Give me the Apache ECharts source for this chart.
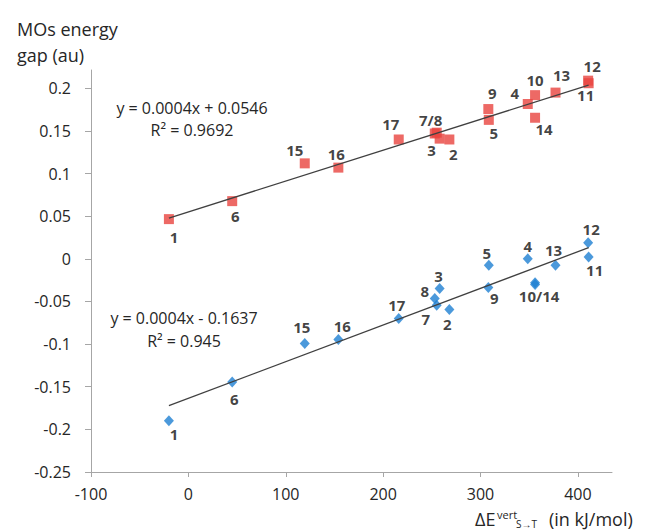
<!DOCTYPE html>
<html><head><meta charset="utf-8">
<script src="https://cdn.jsdelivr.net/npm/echarts@6/dist/echarts.min.js"></script>
<style>html,body{margin:0;padding:0;background:#fff}#c{width:654px;height:532px}</style>
</head><body><div id="c"></div>
<script>
// ---------- data ----------
const compounds   = ['1','2','3','4','5','6','7','8','9','10','11','12','13','14','15','16','17'];
const deltaE      = [-20, 268, 258, 348.5, 308.5, 45, 255, 253, 308, 356, 411, 410.5, 377, 356, 119.5, 154, 216];
const gapRed      = [0.0466, 0.140, 0.141, 0.1816, 0.163, 0.0677, 0.148, 0.147, 0.1757, 0.192, 0.206, 0.209, 0.195, 0.1655, 0.112, 0.107, 0.140];
const gapBlue     = [-0.190, -0.0594, -0.0347, 0.0, -0.0074, -0.1444, -0.0543, -0.0465, -0.0336, -0.028, 0.0023, 0.019, -0.0074, -0.030, -0.0993, -0.0946, -0.070];
const labelsRed   = ['1','2','3','4','5','6','7/8','','9','10','11','12','13','14','15','16','17'];
const labelsBlue  = ['1','2','3','4','5','6','7','8','9','10/14','11','12','13','','15','16','17'];
const xTicks      = [-100, 0, 100, 200, 300, 400];
const yTicks      = [-0.25, -0.2, -0.15, -0.1, -0.05, 0, 0.05, 0.1, 0.15, 0.2];
const eqRed       = ['y = 0.0004x + 0.0546', 'R\u00B2 = 0.9692'];
const eqBlue      = ['y = 0.0004x - 0.1637', 'R\u00B2 = 0.945'];
const yTitle      = 'MOs energy\ngap (au)';

// ---------- layout (label offsets in px, not data) ----------
const offRed  = [[5,18],[4,15],[-8,11],[-13,-11],[5,13],[3,15],[-6,-13],[0,0],[4,-16],[0,-15],[-3,12],[4,-15],[6,-18],[9,11],[-10,-13],[-2,-14],[-8,-15]];
const offBlue = [[5,13],[-2,15],[-1,-12],[0,-13],[-2,-12],[2,17],[-11,14],[-10,-7],[6,11],[4,13],[6,13],[3,-14],[-2,-15],[0,0],[-3,-17],[4,-14],[-2,-14]];

function fit(xs, ys) {
  const n = xs.length;
  let sx=0, sy=0, sxx=0, sxy=0;
  for (let i=0;i<n;i++){ sx+=xs[i]; sy+=ys[i]; sxx+=xs[i]*xs[i]; sxy+=xs[i]*ys[i]; }
  const b = (n*sxy - sx*sy)/(n*sxx - sx*sx);
  const a = (sy - b*sx)/n;
  const x0 = Math.min(...xs), x1 = Math.max(...xs);
  return [[x0, a+b*x0],[x1, a+b*x1]];
}

const FONT = 'Open Sans';
const labelStyle = {show:true, position:'inside', fontFamily:FONT, fontSize:15, fontWeight:'bold', color:'#111'};

function pts(vals, labels, offs) {
  return deltaE.map((x,i)=>({value:[x, vals[i]], label:Object.assign({}, labelStyle, {formatter:labels[i], offset:offs[i]})}));
}

const chart = echarts.init(document.getElementById('c'), null, {renderer:'svg'});
chart.setOption({
  animation:false,
  title:{text:yTitle, left:12, top:11, textStyle:{fontFamily:FONT, fontSize:18, fontWeight:'normal', lineHeight:26, color:'#262626'}},
  grid:{left:91, right:42, top:70, bottom:60},
  xAxis:{type:'value', min:-100, max:435, interval:100,
    splitLine:{show:false},
    axisLine:{onZero:false, lineStyle:{color:'#a6a6a6', width:1}},
    axisTick:{show:true, length:5, lineStyle:{color:'#a6a6a6'}, customValues:xTicks},
    axisLabel:{customValues:xTicks, margin:14, fontFamily:FONT, fontSize:16, color:'#262626'}},
  yAxis:{type:'value', min:-0.25, max:0.2215, interval:0.05,
    splitLine:{show:false},
    axisLine:{show:true, onZero:false, lineStyle:{color:'#a6a6a6', width:1}},
    axisTick:{show:true, length:6, lineStyle:{color:'#a6a6a6'}, customValues:yTicks},
    axisLabel:{customValues:yTicks, margin:20, fontFamily:FONT, fontSize:16, color:'#262626',
      formatter:v=>String(+(+v).toFixed(2))}},
  series:[
    {type:'scatter', symbol:'rect', symbolSize:10, itemStyle:{color:'#e8433f'}, data:pts(gapRed, labelsRed, offRed), z:2},
    {type:'scatter', symbol:'diamond', symbolSize:[10,11], itemStyle:{color:'#1e80d2'}, data:pts(gapBlue, labelsBlue, offBlue), z:2},
    {type:'line', data:fit(deltaE, gapRed), symbol:'none', silent:true, lineStyle:{color:'#404040', width:1.3}, z:3},
    {type:'line', data:fit(deltaE, gapBlue), symbol:'none', silent:true, lineStyle:{color:'#404040', width:1.3}, z:3}
  ],
  graphic:[
    {type:'text', style:{x:192, y:108, text:eqRed[0], textAlign:'center', textVerticalAlign:'middle', font:'16px "Open Sans"', fill:'#262626'}},
    {type:'text', style:{x:192, y:130, text:eqRed[1], textAlign:'center', textVerticalAlign:'middle', font:'16px "Open Sans"', fill:'#262626'}},
    {type:'text', style:{x:184, y:318, text:eqBlue[0], textAlign:'center', textVerticalAlign:'middle', font:'16px "Open Sans"', fill:'#262626'}},
    {type:'text', style:{x:184, y:341, text:eqBlue[1], textAlign:'center', textVerticalAlign:'middle', font:'16px "Open Sans"', fill:'#262626'}},
    {type:'text', style:{x:475, y:519, text:'\u0394E', textAlign:'left', textVerticalAlign:'middle', font:'18px "Open Sans"', fill:'#262626'}},
    {type:'text', style:{x:497, y:514, text:'vert', textAlign:'left', textVerticalAlign:'middle', font:'11px "Open Sans"', fill:'#262626'}},
    {type:'text', style:{x:516, y:524, text:'S\u2192T', textAlign:'left', textVerticalAlign:'middle', font:'10px "Open Sans"', fill:'#262626'}},
    {type:'text', style:{x:549, y:519, text:'(in kJ/mol)', textAlign:'left', textVerticalAlign:'middle', font:'18px "Open Sans"', fill:'#262626'}}
  ]
});
</script>
</body></html>
